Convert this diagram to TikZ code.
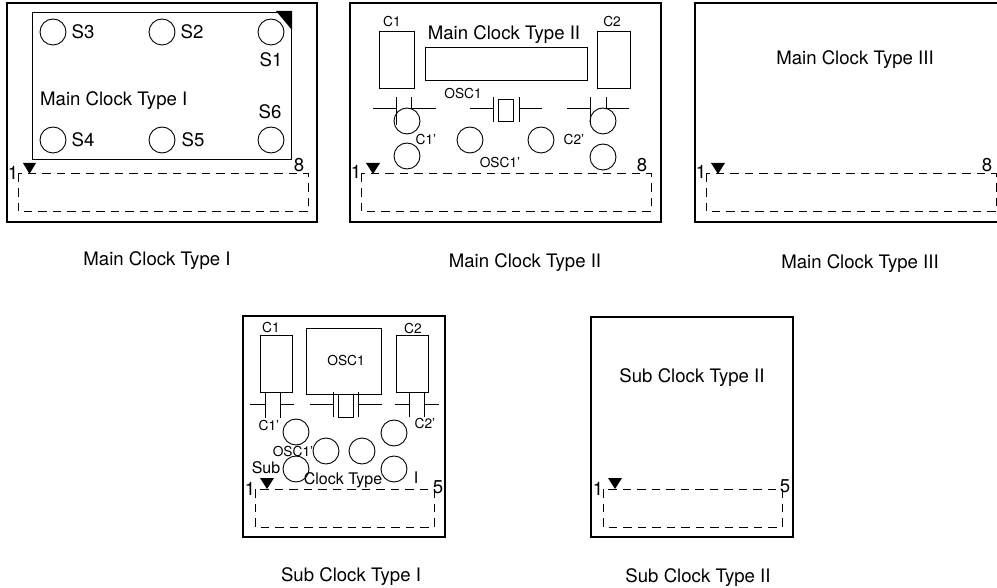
\documentclass[tikz,border=0pt]{standalone}
\usepackage{fontspec}
\setmainfont{TeX Gyre Heros}
\begin{document}
\begin{tikzpicture}[x=1pt, y=-1pt,
        panel/.style={line width=1.9pt},
        part/.style={line width=.9pt},
        socket/.style={line width=1pt, dashed, dash pattern=on 8.5pt off 6pt},
        pad/.style={circle, draw, line width=.9pt, minimum size=26pt, inner sep=0pt},
        big/.style={inner sep=0pt, font=\fontsize{18.6}{20}\selectfont},
        mid/.style={inner sep=0pt, font=\fontsize{16}{18}\selectfont},
        tiny/.style={inner sep=0pt, font=\fontsize{13.7}{16}\selectfont},
        pin/.style={fill=black, draw=none}]
        \useasboundingbox (0, 0) rectangle (997, 588);

        % main clock type I
        \draw[panel] (7, 3) rectangle (317, 222);
        \draw[part] (32, 12) rectangle (291, 159);
        \fill[pin] (276, 11) -- (292, 11) -- (292, 30) -- cycle;
        \foreach \name/\x/\y in {a3/53/32, a2/162/32, a1/271/32, a4/53/140, a5/162/140, a6/271/140}
            \node[pad] (\name) at (\x, \y) {};
        \node[big, right=5pt] (s3) at (a3.east) {S3};
        \node[big, right=5pt] (s2) at (a2.east) {S2};
        \node[big] (s1) at (271, 60) {S1};
        \node[big, anchor=west] (titleA) at (40, 101) {Main Clock Type I};
        \node[big] (s6) at (270, 112) {S6};
        \node[big, right=5pt] (s4) at (a4.east) {S4};
        \node[big, right=6pt] (s5) at (a5.east) {S5};
        \fill[pin] (23, 163) -- (36, 163) -- (29.5, 174) -- cycle;
        \node[big] (pinA) at (13, 173) {1};
        \node[big] (pinB) at (299, 165) {8};
        \draw[socket] (18, 174) rectangle (308, 212);
        \node[big] (capA) at (157, 261) {Main Clock Type I};

        % main clock type II
        \draw[panel] (350, 3) rectangle (661, 222);
        \draw[part] (379, 31) rectangle (414, 88);
        \draw[part] (597, 31) rectangle (630, 88);
        \draw[part] (425, 47) rectangle (587, 80);
        \node[tiny] (c1B) at (392, 22) {C1};
        \node[tiny] (c2B) at (612, 22) {C2};
        \node[big] (titleB) at (504, 35) {Main Clock Type II};
        \node[tiny] (oscB) at (463, 94) {OSC1};
        \draw[part] (373, 108) -- (396, 108) (396, 97) -- (396, 125);
        \draw[part] (411, 97) -- (411, 108) (411, 108) -- (436, 108);
        \draw[part] (470, 108) -- (493, 108) (493, 97) -- (493, 122);
        \draw[part] (498, 99) rectangle (513, 121);
        \draw[part] (519, 97) -- (519, 122) (519, 108) -- (542, 108);
        \draw[part] (567, 108) -- (590, 108) (590, 97) -- (590, 125);
        \draw[part] (606, 97) -- (606, 108) (606, 108) -- (629, 108);
        \foreach \name/\x/\y in {b1/407/121, b2/407/156, b3/470/140, b4/541/140, b5/603/121, b6/603/157}
            \node[pad] (\name) at (\x, \y) {};
        \node[tiny] (c1pB) at (426, 140) {C1'};
        \node[tiny] (c2pB) at (574, 140) {C2'};
        \node[tiny] (oscpB) at (500, 163) {OSC1'};
        \fill[pin] (366, 163) -- (380, 163) -- (373, 174) -- cycle;
        \node[big] (pinC) at (356, 172) {1};
        \node[big] (pinD) at (642, 165) {8};
        \draw[socket] (361, 174) rectangle (651, 212);
        \node[big] (capB) at (525, 263) {Main Clock Type II};

        % main clock type III
        \draw[panel] (695, 3) rectangle (999, 222);
        \node[big] (titleC) at (855, 60) {Main Clock Type III};
        \fill[pin] (711, 163) -- (725, 163) -- (718, 174) -- cycle;
        \node[big] (pinE) at (701, 172) {1};
        \node[big] (pinF) at (987, 165) {8};
        \draw[socket] (706, 174) rectangle (996, 212);
        \node[big] (capC) at (860, 264) {Main Clock Type III};

        % sub clock type I
        \draw[panel] (243, 316) rectangle (445, 537);
        \draw[part] (260, 335) rectangle (292, 392);
        \draw[part] (396, 335) rectangle (428, 392);
        \draw[part] (306, 328) rectangle (381, 394);
        \node[tiny] (c1D) at (271, 328) {C1};
        \node[tiny] (c2D) at (413, 329) {C2};
        \node[tiny] (oscD) at (346, 361) {OSC1};
        \draw[part] (250, 404) -- (265, 404) (265, 392) -- (265, 418);
        \draw[part] (280, 392) -- (280, 418) (280, 404) -- (294, 404);
        \draw[part] (310, 404) -- (333, 404) (333, 392) -- (333, 417);
        \draw[part] (338, 394) rectangle (353, 417);
        \draw[part] (358, 392) -- (358, 417) (358, 404) -- (382, 404);
        \draw[part] (395, 404) -- (409, 404) (409, 392) -- (409, 417);
        \draw[part] (424, 392) -- (424, 417) (424, 404) -- (439, 404);
        \foreach \name/\x/\y in {d1/296/432, d2/296/469, d3/326/451, d4/362/451, d5/394/433, d6/394/469}
            \node[pad] (\name) at (\x, \y) {};
        \node[tiny] (c1pD) at (269, 426) {C1'};
        \node[tiny] (c2pD) at (425, 424) {C2'};
        \node[tiny] (oscpD) at (293, 452) {OSC1'};
        \node[mid] (subD) at (266, 468) {Sub};
        \node[mid] (clockD) at (343, 480) {Clock Type};
        \node[mid] (typeD) at (416, 478) {I};
        \fill[pin] (260, 478) -- (274, 478) -- (267, 489) -- cycle;
        \node[big] (pinG) at (250, 489) {1};
        \node[big] (pinH) at (438, 487) {5};
        \draw[socket] (255, 489) rectangle (434, 527);
        \node[big] (capD) at (351, 577) {Sub Clock Type I};

        % sub clock type II
        \draw[panel] (591, 317) rectangle (793, 537);
        \node[big] (titleE) at (692, 378) {Sub Clock Type II};
        \fill[pin] (608, 478) -- (622, 478) -- (615, 489) -- cycle;
        \node[big] (pinI) at (598, 489) {1};
        \node[big] (pinJ) at (785, 486) {5};
        \draw[socket] (603, 489) rectangle (782, 527);
        \node[big] (capE) at (698, 578) {Sub Clock Type II};
    \end{tikzpicture}
\end{document}
